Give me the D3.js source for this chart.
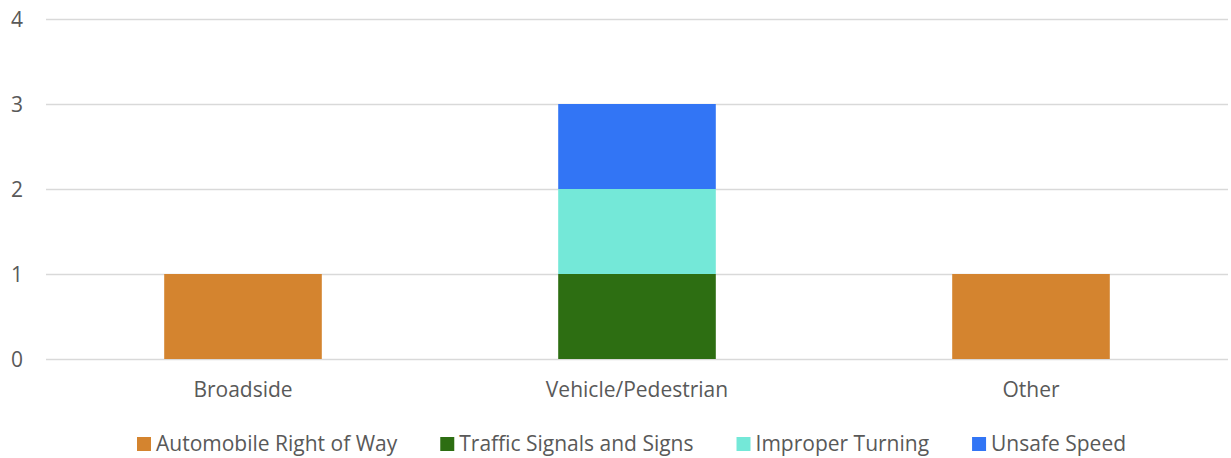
<!DOCTYPE html>
<html><head><meta charset="utf-8">
<script src="https://cdn.jsdelivr.net/npm/d3@7"></script>
<style>body{margin:0;background:#fff}svg{display:block}text{font-family:"Open Sans",sans-serif;fill:#595959}</style>
</head><body><svg id="c" width="1231" height="458"></svg>
<script>
const categories = ["Broadside", "Vehicle/Pedestrian", "Other"];
const seriesNames = ["Automobile Right of Way", "Traffic Signals and Signs", "Improper Turning", "Unsafe Speed"];
const automobileRightOfWay = [1, 0, 1];
const trafficSignalsAndSigns = [0, 1, 0];
const improperTurning = [0, 1, 0];
const unsafeSpeed = [0, 1, 0];
const yTicks = [0, 1, 2, 3, 4];
const colors = ["#D4842F", "#2D6E12", "#74E8D8", "#3275F5"];

const seriesValues = [automobileRightOfWay, trafficSignalsAndSigns, improperTurning, unsafeSpeed];
const rows = categories.map((c, i) => {
  const r = {category: c};
  seriesNames.forEach((s, j) => r[s] = seriesValues[j][i]);
  return r;
});
const stacked = d3.stack().keys(seriesNames)(rows);

const svg = d3.select("#c");
const mLeft = 46, mRight = 1228, mTop = 19, mBottom = 359;
const x = d3.scaleBand().domain(categories).range([mLeft, mRight]).paddingInner(0.6).paddingOuter(0.3);
const y = d3.scaleLinear().domain([0, 4]).range([mBottom, mTop]);

const yAxis = svg.append("g").attr("transform", `translate(${mLeft},0)`)
  .call(d3.axisLeft(y).tickValues(yTicks).tickSize(-(mRight - mLeft)).tickFormat(d3.format("d")));
yAxis.select(".domain").remove();
yAxis.selectAll(".tick line").attr("stroke", "#D9D9D9").attr("stroke-width", 1.3);
yAxis.selectAll(".tick text").attr("x", -23).attr("text-anchor", "end").style("font-size", "21px").attr("dy", "0.35em").attr("fill", "#595959");

svg.append("g").selectAll("g").data(stacked).join("g")
  .attr("fill", (d, i) => colors[i])
  .selectAll("rect").data(d => d.filter(v => v[1] > v[0])).join("rect")
  .attr("x", d => x(d.data.category))
  .attr("width", x.bandwidth())
  .attr("y", d => y(d[1]))
  .attr("height", d => y(d[0]) - y(d[1]));

const xAxis = svg.append("g").attr("transform", `translate(0,${mBottom})`)
  .call(d3.axisBottom(x).tickSize(0));
xAxis.select(".domain").remove();
xAxis.selectAll(".tick text").attr("y", 31).attr("dy", "0.35em").style("font-size", "21px").attr("fill", "#595959");

// legend
const legend = svg.append("g");
const items = legend.selectAll("g").data(seriesNames).join("g");
items.append("rect").attr("width", 14).attr("height", 14).attr("y", -7).attr("fill", (d, i) => colors[i]);
items.append("text").attr("x", 19).attr("dy", "0.35em").style("font-size", "21px").text(d => d);
let cx = 0;
const gap = 43;
items.each(function () {
  const w = 19 + this.querySelector("text").getComputedTextLength();
  d3.select(this).attr("transform", `translate(${cx},0)`);
  cx += w + gap;
});
legend.attr("transform", `translate(137,444)`);
</script></body></html>
